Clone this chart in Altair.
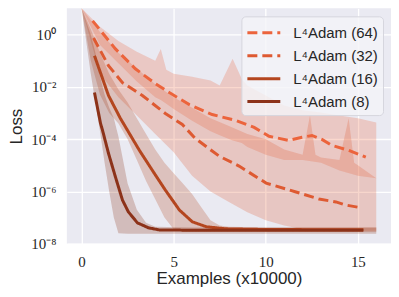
import altair as alt
import pandas as pd

# ---- data (log10 of loss values) ----
series_names = ["L⁴Adam (64)", "L⁴Adam (32)", "L⁴Adam (16)", "L⁴Adam (8)"]
series_colors = ["#EC643C", "#DE5A32", "#B4461F", "#8C3219"]

m64_x = [0.60, 1.84, 2.92, 4.01, 4.76, 5.85, 7.09, 8.39, 9.37, 10.18, 11.26, 11.97, 12.51, 13.05, 13.59, 14.51, 15.43]
m64_l = [0.52, -0.55, -1.31, -1.88, -2.22, -2.68, -3.06, -3.29, -3.55, -3.89, -4.05, -3.93, -3.86, -4.01, -4.24, -4.43, -4.69]

m32_x = [0.65, 1.46, 2.22, 3.30, 4.55, 5.47, 6.17, 7.47, 8.55, 10.02, 11.64, 12.89, 13.81, 14.35, 15.21]
m32_l = [-0.13, -1.19, -1.84, -2.33, -3.02, -3.44, -3.97, -4.65, -5.03, -5.68, -6.02, -6.29, -6.40, -6.52, -6.63]

m16_x = [0.70, 1.14, 1.46, 2.11, 3.14, 3.84, 4.55, 5.31, 6.01, 6.77, 7.85, 9.5, 12, 15.3]
m16_l = [-0.81, -1.69, -2.33, -3.21, -4.43, -5.19, -5.95, -6.71, -7.16, -7.35, -7.43, -7.45, -7.46, -7.46]

m8_x = [0.70, 1.03, 1.14, 1.46, 1.84, 2.22, 2.54, 3.03, 3.63, 4.22, 5.5, 8, 12, 15.3]
m8_l = [-2.22, -3.40, -3.67, -4.54, -5.45, -6.33, -6.78, -7.20, -7.39, -7.47, -7.48, -7.48, -7.48, -7.48]

b64_x = [0, 1, 2, 3, 4, 4.3, 4.6, 5, 6, 7, 7.5, 8.2, 8.7, 9, 10, 11, 12, 13, 14, 15, 16]
b64_hi = [1.0, 0.3, -0.25, -0.66, -1.0, -0.55, -1.35, -1.5, -1.61, -1.76, -1.95, -0.93, -1.7, -1.95, -2.33, -2.71, -2.9, -2.98, -3.1, -3.2, -3.36]
b64_lo = [1.0, -0.4, -1.1, -1.8, -2.4, -2.5, -2.65, -2.85, -3.3, -3.7, -3.85, -4.05, -4.15, -4.3, -4.6, -4.8, -4.8, -4.9, -5.2, -5.4, -5.5]

b32_x = [0, 1, 2, 3, 4, 5, 6, 7, 8, 9, 10, 11, 12, 12.4, 12.7, 13, 14, 14.5, 14.8, 15, 16]
b32_hi = [1.0, 0.1, -0.7, -1.3, -1.9, -2.4, -2.8, -3.2, -3.5, -3.8, -4.0, -4.4, -4.6, -3.1, -4.6, -4.7, -4.8, -3.2, -4.9, -5.0, -5.5]
b32_lo = [1.0, -1.5, -2.4, -3.1, -3.8, -4.5, -5.4, -6.0, -6.4, -6.8, -7.1, -7.3, -7.45, -7.5, -7.5, -7.5, -7.5, -7.5, -7.5, -7.5, -7.5]

b16_x = [0, 0.5, 1, 1.5, 2, 2.5, 3, 3.5, 4, 4.5, 5, 5.5, 6, 6.5, 7, 7.5, 8, 10, 12, 14, 16]
b16_hi = [1.0, 0.2, -0.7, -1.5, -2.1, -2.6, -3.2, -3.8, -4.4, -4.9, -5.3, -5.7, -6.1, -6.6, -7.1, -7.3, -7.35, -7.38, -7.38, -7.38, -7.38]
b16_lo = [1.0, -1.0, -2.3, -3.0, -3.4, -4.0, -4.8, -5.6, -6.3, -7.0, -7.45, -7.55, -7.55, -7.55, -7.55, -7.55, -7.55, -7.55, -7.55, -7.55, -7.55]

b8_x = [0, 0.5, 0.75, 1.0, 1.25, 1.5, 1.75, 2.0, 2.5, 3.0, 3.5, 4.0, 6, 8, 10, 12, 14, 16]
b8_hi = [1.0, 0.0, -0.7, -1.6, -2.3, -2.8, -3.2, -3.9, -5.7, -6.7, -7.2, -7.35, -7.38, -7.38, -7.38, -7.38, -7.38, -7.38]
b8_lo = [1.0, -1.5, -2.6, -3.7, -4.9, -6.0, -7.0, -7.6, -7.62, -7.62, -7.62, -7.62, -7.62, -7.62, -7.62, -7.62, -7.62, -7.62]

x_ticks = [0, 5, 10, 15]
y_ticks = [1e-8, 1e-6, 1e-4, 1e-2, 1]
y_labels = {0: "10⁰", -2: "10⁻²", -4: "10⁻⁴", -6: "10⁻⁶", -8: "10⁻⁸"}

# ---- tables ----
means = [(m64_x, m64_l), (m32_x, m32_l), (m16_x, m16_l), (m8_x, m8_l)]
bands = [(b64_x, b64_lo, b64_hi), (b32_x, b32_lo, b32_hi), (b16_x, b16_lo, b16_hi), (b8_x, b8_lo, b8_hi)]

line_rows = []
for name, (xs, ls) in zip(series_names, means):
    for i, (x, l) in enumerate(zip(xs, ls)):
        line_rows.append({"series": name, "x": x, "y": 10 ** l, "i": i})
band_rows = []
for name, (xs, lo, hi) in zip(series_names, bands):
    for x, a, b in zip(xs, lo, hi):
        band_rows.append({"band": name, "x": x, "lo": 10 ** a, "hi": 10 ** b})
lines_df = pd.DataFrame(line_rows)
bands_df = pd.DataFrame(band_rows)

label_expr = " : ".join(
    f"round(log(datum.value)/LN10) == {k} ? '{v}'" for k, v in y_labels.items()
) + " : ''"

xscale = alt.Scale(domain=[-0.8, 16.8], nice=False, zero=False)
yscale = alt.Scale(type="log", domain=[1e-8, 10], nice=False)
color_scale = alt.Scale(domain=series_names, range=series_colors)
dash_scale = alt.Scale(domain=series_names, range=[[10, 5], [10, 5], [1, 0], [1, 0]])

x_axis = alt.Axis(values=x_ticks, format="d", title="Examples (x10000)",
                  labelBaseline="alphabetic", labelPadding=23, titleY=40,
                  titleBaseline="alphabetic")
y_axis = alt.Axis(values=y_ticks, labelExpr=label_expr, title="Loss",
                  labelPadding=11, titleX=-50, titleY=118, titleAngle=270,
                  titleAlign="center", titleBaseline="middle")

legend = alt.Legend(
    title=None, orient="top-right", offset=8, padding=5,
    fillColor="rgba(244,244,248,0.82)", strokeColor="#D6D6DE", cornerRadius=4,
    labelFont="Liberation Sans", labelFontSize=15, labelColor="#262626",
    symbolType="M-1.65,0H1.65", symbolSize=400, symbolStrokeWidth=3,
    symbolOffset=6, labelOffset=18, rowPadding=3,
)

band_layer = alt.Chart(bands_df).mark_area(opacity=0.25, clip=True).encode(
    x=alt.X("x:Q", scale=xscale, axis=x_axis),
    y=alt.Y("hi:Q", scale=yscale, axis=y_axis),
    y2="lo:Q",
    fill=alt.Fill("band:N", scale=alt.Scale(domain=series_names, range=series_colors), legend=None),
)

line_layer = alt.Chart(lines_df).mark_line(strokeWidth=3, clip=True).encode(
    x=alt.X("x:Q", scale=xscale),
    y=alt.Y("y:Q", scale=yscale),
    color=alt.Color("series:N", scale=color_scale, legend=legend),
    strokeDash=alt.StrokeDash("series:N", scale=dash_scale, legend=legend),
    order="i:Q",
)

chart = alt.layer(band_layer, line_layer).resolve_scale(
    fill="independent", color="independent", strokeDash="independent"
).properties(
    width=325, height=236,
    padding={"left": 0, "top": 0, "right": 0, "bottom": 0},
    background="white",
).configure_view(
    fill="#EAEAF2", stroke=None
).configure_axis(
    domain=False, ticks=False, tickSize=0, gridColor="white", gridWidth=1.3,
    labelFont="Liberation Serif", labelFontSize=15, labelColor="#262626",
    titleFont="Liberation Sans", titleFontSize=17, titleFontWeight="normal",
    titleColor="#262626",
)

chart.save("out.html", embed_options={"renderer": "svg", "actions": False})
